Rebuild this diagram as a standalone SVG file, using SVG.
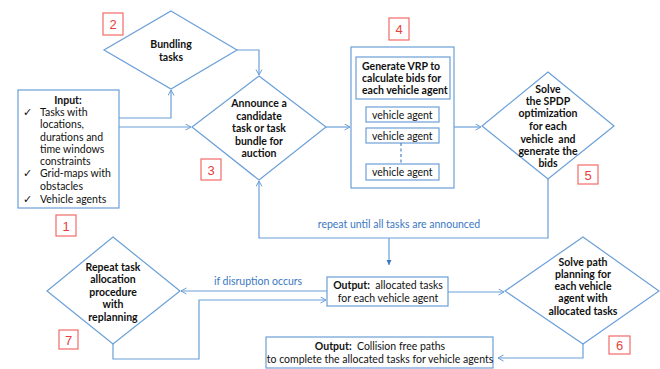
<svg xmlns="http://www.w3.org/2000/svg" width="660" height="369" viewBox="0 0 660 369">
<defs>
<style>
.ln{fill:none;stroke:#6b9fd8;stroke-width:1.2}
.nd{fill:#fff;stroke:#6b9fd8;stroke-width:1.2}
.t{font-family:Lato,"Liberation Sans",sans-serif;font-size:10.5px;fill:#111}
.b{font-weight:bold}
.c{text-anchor:middle}
.blue{fill:#3a78c2}
.lb{fill:#fff;stroke:#f26b66;stroke-width:1.2}
.lt{font-family:"Liberation Sans",Arial,sans-serif;font-size:13px;fill:#e8403a;text-anchor:middle}
.ck{font-family:"DejaVu Sans",sans-serif;font-size:11px;fill:#111}
</style>
<marker id="ar" markerWidth="8" markerHeight="8" refX="6" refY="3.5" orient="auto" markerUnits="userSpaceOnUse">
<path d="M0.5,0.5 L6,3.5 L0.5,6.5" fill="none" stroke="#6b9fd8" stroke-width="1"/>
</marker>
<marker id="af" markerWidth="6" markerHeight="6" refX="5" refY="2.5" orient="auto" markerUnits="userSpaceOnUse">
<path d="M0,0 L5,2.5 L0,5 Z" fill="#3a78c2"/>
</marker>
</defs>
<rect width="660" height="369" fill="#fff"/>

<g id="connectors">
<path class="ln" d="M119,118 H171 V90" marker-end="url(#ar)"/>
<path class="ln" d="M119,127 H191" marker-end="url(#ar)"/>
<path class="ln" d="M237,50 H259 V75" marker-end="url(#ar)"/>
<path class="ln" d="M326,127 H350" marker-end="url(#ar)"/>
<path class="ln" d="M454,127 H481" marker-end="url(#ar)"/>
<path class="ln" d="M548,179 V238 H259 V181" marker-end="url(#ar)"/>
<path class="ln" d="M389,238 V265" marker-end="url(#af)"/>
<path class="ln" d="M448,292 H504" marker-end="url(#ar)"/>
<path class="ln" d="M583,344 V358 H498" marker-end="url(#ar)"/>
<path class="ln" d="M327,291 H181" marker-end="url(#ar)"/>
<path class="ln" d="M113,344 V359 H199 V300 H326" marker-end="url(#ar)"/>
<text class="t blue c" x="399" y="228">repeat until all tasks are announced</text>
<text class="t blue c" x="258" y="285">if disruption occurs</text>
</g>

<g id="input">
<rect class="nd" x="18" y="90" width="101" height="118"/>
<text class="t b c" x="68" y="104">Input:</text>
<text class="ck" x="23" y="116">✓</text>
<text class="t" x="40" y="116">Tasks with</text>
<text class="t" x="40" y="128">locations,</text>
<text class="t" x="40" y="141">durations and</text>
<text class="t" x="40" y="153">time windows</text>
<text class="t" x="40" y="165">constraints</text>
<text class="ck" x="23" y="177">✓</text>
<text class="t" x="40" y="177">Grid-maps with</text>
<text class="t" x="40" y="190">obstacles</text>
<text class="ck" x="23" y="203">✓</text>
<text class="t" x="40" y="203">Vehicle agents</text>
</g>
<g id="label1"><rect class="lb" x="56" y="215" width="20" height="21"/><text class="lt" x="66" y="231">1</text></g>

<g id="bundling">
<path class="nd" d="M171,11 L237,50 L171,89 L104,50 Z"/>
<text class="t b c" x="171" y="48">Bundling</text>
<text class="t b c" x="171" y="61">tasks</text>
</g>
<g id="label2"><rect class="lb" x="103" y="13" width="20" height="22"/><text class="lt" x="113" y="29">2</text></g>

<g id="announce">
<path class="nd" d="M259,76 L326,127 L259,180 L192,127 Z"/>
<text class="t b c" x="259" y="107">Announce a</text>
<text class="t b c" x="259" y="120">candidate</text>
<text class="t b c" x="259" y="132">task or task</text>
<text class="t b c" x="259" y="145">bundle for</text>
<text class="t b c" x="259" y="157">auction</text>
</g>
<g id="label3"><rect class="lb" x="201" y="159" width="20" height="21"/><text class="lt" x="211" y="175">3</text></g>

<g id="vrp">
<rect class="nd" x="351" y="47" width="103" height="141"/>
<rect class="nd" x="356" y="57" width="94" height="42"/>
<text class="t b" x="362" y="70">Generate VRP to</text>
<text class="t b" x="362" y="82">calculate bids for</text>
<text class="t b" x="362" y="94">each vehicle agent</text>
<rect class="nd" x="366" y="107" width="73" height="15"/>
<text class="t" x="372" y="118.5">vehicle agent</text>
<rect class="nd" x="366" y="128" width="73" height="15"/>
<text class="t" x="372" y="139.5">vehicle agent</text>
<path d="M401,143 V164" fill="none" stroke="#4a84c8" stroke-width="1.2" stroke-dasharray="3,2.5"/>
<rect class="nd" x="366" y="164" width="73" height="16"/>
<text class="t" x="372" y="176">vehicle agent</text>
</g>
<g id="label4"><rect class="lb" x="389" y="18" width="20" height="22"/><text class="lt" x="399" y="34">4</text></g>

<g id="spdp">
<path class="nd" d="M548,72 L614,126 L548,179 L482,126 Z"/>
<text class="t b c" x="548" y="93">Solve</text>
<text class="t b c" x="548" y="105">the SPDP</text>
<text class="t b c" x="548" y="117">optimization</text>
<text class="t b c" x="548" y="130">for each</text>
<text class="t b c" x="548" y="143" xml:space="preserve">vehicle  and</text>
<text class="t b c" x="548" y="155">generate the</text>
<text class="t b c" x="548" y="167">bids</text>
</g>
<g id="label5"><rect class="lb" x="578" y="165" width="20" height="19"/><text class="lt" x="588" y="180">5</text></g>

<g id="output">
<rect class="nd" x="327" y="277" width="121" height="29"/>
<text class="t c" x="388" y="289" xml:space="preserve"><tspan class="b">Output:</tspan>  allocated tasks</text>
<text class="t c" x="388" y="302">for each vehicle agent</text>
</g>

<g id="pathplan">
<path class="nd" d="M583,237 L659,291 L583,344 L505,291 Z"/>
<text class="t b c" x="583" y="266">Solve path</text>
<text class="t b c" x="583" y="278">planning for</text>
<text class="t b c" x="583" y="290">each vehicle</text>
<text class="t b c" x="583" y="302">agent with</text>
<text class="t b c" x="583" y="315">allocated tasks</text>
</g>
<g id="label6"><rect class="lb" x="609" y="336" width="21" height="18"/><text class="lt" x="619.5" y="350">6</text></g>

<g id="final">
<rect class="nd" x="266" y="337" width="227" height="31"/>
<text class="t c" x="380" y="350" xml:space="preserve"><tspan class="b">Output:</tspan>  Collision free paths</text>
<text class="t c" x="380" y="363">to complete the allocated tasks for vehicle agents</text>
</g>

<g id="replan">
<path class="nd" d="M113,237 L180,291 L113,344 L47,291 Z"/>
<text class="t b c" x="113" y="271">Repeat task</text>
<text class="t b c" x="113" y="283">allocation</text>
<text class="t b c" x="113" y="296">procedure</text>
<text class="t b c" x="113" y="308">with</text>
<text class="t b c" x="113" y="321">replanning</text>
</g>
<g id="label7"><rect class="lb" x="59" y="330" width="19" height="19"/><text class="lt" x="68.5" y="345">7</text></g>
</svg>
